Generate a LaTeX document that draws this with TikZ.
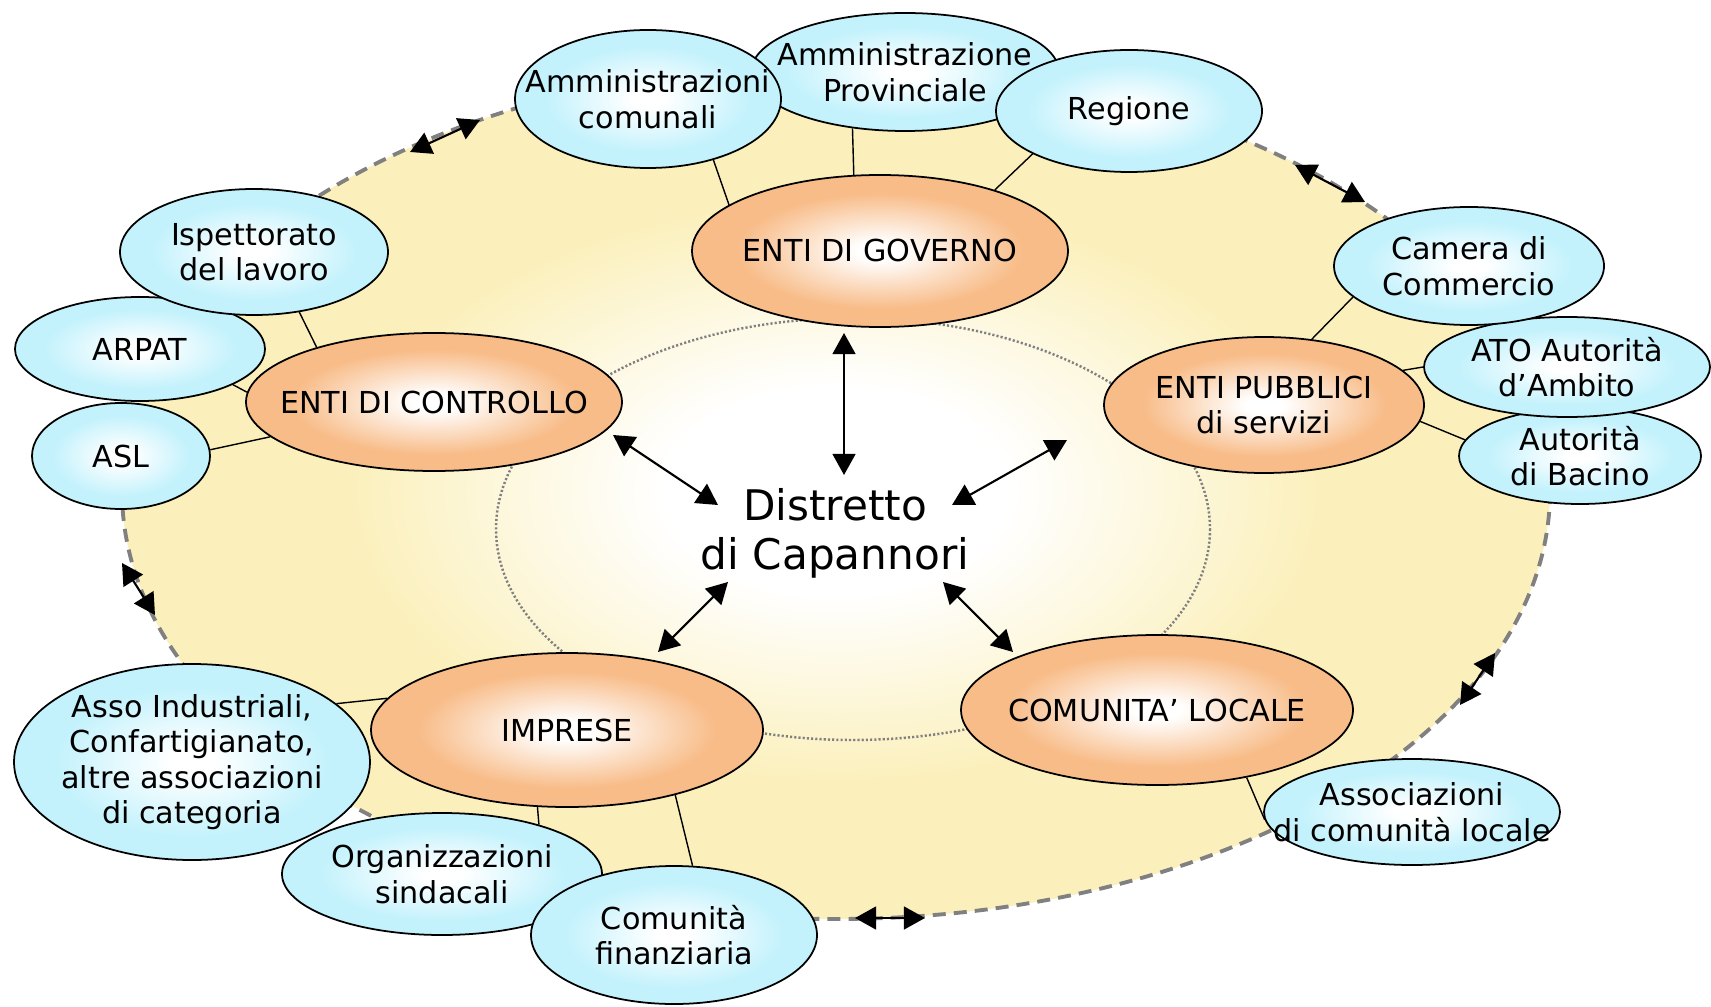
\documentclass[tikz,border=0pt]{standalone}
\usepackage{fontspec}
\setmainfont{DejaVu Sans}
\usetikzlibrary{shapes.geometric,arrows.meta}

\definecolor{giallo}{RGB}{251,240,188}
\definecolor{arancio}{RGB}{248,188,136}
\definecolor{azzurro}{RGB}{196,242,252}
\definecolor{grigio}{RGB}{128,128,128}

\pgfdeclareradialshading{sfondo}{\pgfpoint{0bp}{0bp}}{color(0bp)=(white); color(6bp)=(white);
  color(17bp)=(giallo); color(50bp)=(giallo)}
\pgfdeclareradialshading{palla arancio}{\pgfpoint{0bp}{0bp}}{color(0bp)=(white); color(3bp)=(white);
  color(19bp)=(arancio); color(50bp)=(arancio)}
\pgfdeclareradialshading{palla azzurra}{\pgfpoint{0bp}{0bp}}{color(0bp)=(white); color(3bp)=(white);
  color(19bp)=(azzurro); color(50bp)=(azzurro)}

\begin{document}
\begin{tikzpicture}[x=0.1mm,y=-0.1mm,
  ente/.style={ellipse,draw,line width=0.5pt,inner xsep=-10mm,inner ysep=-5mm,align=center,
    shade,shading=palla arancio,font=\fontsize{8.6}{10.1}\selectfont},
  attore/.style={ellipse,draw,line width=0.5pt,inner xsep=-10mm,inner ysep=-5mm,align=center,
    shade,shading=palla azzurra,font=\fontsize{8.6}{10.1}\selectfont},
  link/.style={line width=0.4pt},
  freccia/.style={{Triangle[length=6pt,width=6.5pt]}-{Triangle[length=6pt,width=6.5pt]},line width=0.6pt}]

\useasboundingbox (0,0) rectangle (1711,1007);

% sfondo
\shade[shading=sfondo] (836,491) ellipse (714 and 428);
\draw[grigio,line width=1.1pt,dash pattern=on 3.7pt off 2.3pt] (836,491) ellipse (714 and 428);
\draw[grigio,line width=0.7pt,dash pattern=on 0.6pt off 0.6pt] (853,529) ellipse (357 and 211);

% enti
\node[ente,minimum width=37.6mm,minimum height=15.2mm] at (880,251) (governo) {ENTI DI GOVERNO};
\node[ente,minimum width=37.6mm,minimum height=13.8mm] at (434,402) (controllo) {ENTI DI CONTROLLO};
\node[ente,minimum width=32mm,minimum height=13.6mm] at (1264,405) (pubblici) {ENTI PUBBLICI\\di servizi};
\node[ente,minimum width=39.2mm,minimum height=15.4mm] at (567,730) (imprese) {IMPRESE};
\node[ente,minimum width=39.2mm,minimum height=15mm] at (1157,710) (comunita) {COMUNITA’ LOCALE};

% attori
\node[attore,minimum width=30.8mm,minimum height=11.8mm] at (905,72) (provinciale) {Amministrazione\\Provinciale};
\node[attore,minimum width=26.6mm,minimum height=13.8mm] at (648,99) (comunali) {Amministrazioni\\comunali};
\node[attore,minimum width=26.6mm,minimum height=12.2mm] at (1129,111) (regione) {Regione};
\node[attore,minimum width=25mm,minimum height=10.4mm] at (140,349) (arpat) {ARPAT};
\node[attore,minimum width=17.8mm,minimum height=10.6mm] at (121,456) (asl) {ASL};
\node[attore,minimum width=26.8mm,minimum height=12.6mm] at (254,252) (ispettorato) {Ispettorato\\del lavoro};
\node[attore,minimum width=24.2mm,minimum height=9.6mm] at (1580,456) (bacino) {Autorità\\di Bacino};
\node[attore,minimum width=28.6mm,minimum height=10mm] at (1567,367) (ato) {ATO Autorità\\d’Ambito};
\node[attore,minimum width=27mm,minimum height=11.8mm] at (1469,266) (camera) {Camera di\\Commercio};
\node[attore,minimum width=32mm,minimum height=12.2mm] at (442,874) (sindacali) {Organizzazioni\\sindacali};
\node[attore,minimum width=35.6mm,minimum height=19.6mm] at (192,762) (asso) {Asso Industriali,\\Confartigianato,\\altre associazioni\\di categoria};
\node[attore,minimum width=28.6mm,minimum height=13.8mm] at (674,935) (finanziaria) {Comunità\\finanziaria};
\node[attore,minimum width=29.6mm,minimum height=10.6mm] at (1412,812) (associazioni) {Associazioni\\di comunità locale};

\node[font=\fontsize{12}{13.9}\selectfont,align=center,inner sep=0pt] at (835,533) (distretto) {Distretto\\di Capannori};

% collegamenti
\draw[link] (comunali.-43) -- (governo.163);
\draw[link] (provinciale.227) -- (governo.109);
\draw[link] (regione.204) -- (governo.28);
\draw[link] (ispettorato.-53) -- (controllo.155);
\draw[link] (arpat.-21) -- (controllo.177);
\draw[link] (asl.4) -- (controllo.192);
\draw[link] (camera.195) -- (pubblici.54);
\draw[link] (ato.180) -- (pubblici.14);
\draw[link] (bacino.172) -- (pubblici.-6);
\draw[link] (asso.22) -- (imprese.170);
\draw[link] (sindacali.27) -- (imprese.249);
\draw[link] (finanziaria.75) -- (imprese.-31);
\draw[link] (associazioni.183) -- (comunita.-37);

% frecce verso il distretto
\foreach \n/\xa/\ya/\xb/\yb in {fg/844/333/844/475, fc/613/435/718/505, fp/1067/440/952/505,
    fi/658/652/728/582, fl/1013/652/943/582}{
  \coordinate (\n1) at (\xa,\ya);
  \coordinate (\n2) at (\xb,\yb);
  \draw[freccia] (\n1) -- (\n2);
}

% frecce sul bordo
\foreach \n/\xa/\ya/\xb/\yb in {b1/410/152/480/120, b2/1295/165/1365/202, b3/122/563/155/615,
    b4/1495/653/1460/705, b5/855/918/925/918}{
  \coordinate (\n1) at (\xa,\ya);
  \coordinate (\n2) at (\xb,\yb);
  \draw[freccia] (\n1) -- (\n2);
}
\end{tikzpicture}
\end{document}
